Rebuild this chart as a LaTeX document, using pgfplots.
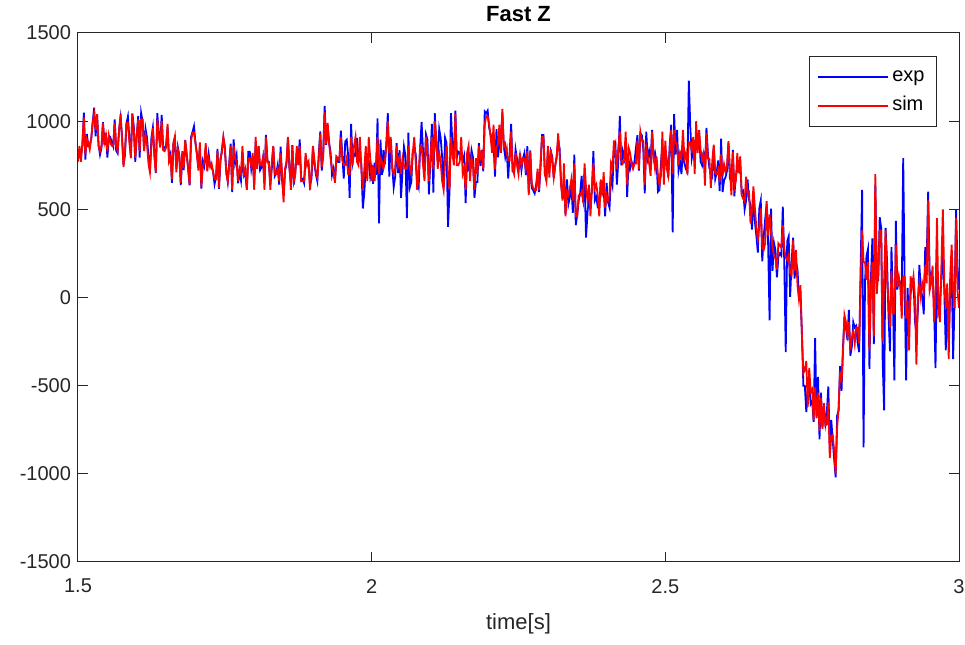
\documentclass[border=0pt]{standalone}
\usepackage{fontspec}
\setmainfont{Liberation Sans}
\usepackage{pgfplots}
\pgfplotsset{compat=1.18}
\usepackage{pgfplotstable}
\usetikzlibrary{calc}
\definecolor{axgray}{RGB}{38,38,38}

% time [s], measured (exp), simulated (sim)
\pgfplotstableread{
t exp sim
1.5000 790 770
1.5025 832 860
1.5050 798 770
1.5075 860 880
1.5100 1048 1020
1.5125 782 810
1.5150 928 900
1.5175 860 880
1.5200 868 840
1.5225 896 900
1.5250 994 990
1.5275 1076 1040
1.5300 914 950
1.5325 1036 1040
1.5350 864 860
1.5375 810 830
1.5400 848 860
1.5425 994 990
1.5450 868 880
1.5475 932 920
1.5500 794 830
1.5525 900 920
1.5550 908 880
1.5575 880 860
1.5600 856 860
1.5625 1010 990
1.5650 832 860
1.5675 818 830
1.5700 954 950
1.5725 1020 1040
1.5750 912 900
1.5775 752 740
1.5800 810 830
1.5825 986 990
1.5850 1026 990
1.5875 900 880
1.5900 810 790
1.5925 1044 1040
1.5950 970 950
1.5975 770 790
1.6000 916 920
1.6025 1030 1010
1.6050 794 830
1.6075 1046 1010
1.6100 998 1010
1.6125 842 830
1.6150 956 920
1.6175 906 870
1.6200 796 760
1.6225 714 710
1.6250 906 870
1.6275 964 960
1.6300 820 800
1.6325 706 710
1.6350 1046 1010
1.6375 932 920
1.6400 862 850
1.6425 1036 1000
1.6450 847 835
1.6475 850 830
1.6500 862 850
1.6525 965 985
1.6550 790 770
1.6575 815 795
1.6600 650 670
1.6625 876 880
1.6650 879 915
1.6675 730 710
1.6700 852 840
1.6725 807 795
1.6750 638 650
1.6775 794 830
1.6800 723 735
1.6825 894 890
1.6850 808 820
1.6875 734 730
1.6900 636 640
1.6925 910 890
1.6950 939 935
1.6975 971 935
1.7000 876 880
1.7025 814 810
1.7050 740 720
1.7075 852 880
1.7100 618 630
1.7125 773 745
1.7150 745 765
1.7175 847 875
1.7200 735 715
1.7225 813 785
1.7250 744 740
1.7275 740 760
1.7300 714 710
1.7325 642 670
1.7350 682 670
1.7375 842 830
1.7400 616 620
1.7425 770 790
1.7450 840 820
1.7475 906 910
1.7500 840 860
1.7525 720 700
1.7550 656 660
1.7575 762 750
1.7600 872 860
1.7625 598 610
1.7650 896 860
1.7675 762 790
1.7700 806 770
1.7725 648 660
1.7750 710 730
1.7775 664 700
1.7800 824 860
1.7825 688 700
1.7850 694 730
1.7875 614 610
1.7900 826 790
1.7925 826 790
1.7950 730 750
1.7975 792 820
1.8000 638 610
1.8025 882 910
1.8050 750 730
1.8075 856 860
1.8100 722 750
1.8125 738 750
1.8150 794 790
1.8175 646 610
1.8200 922 910
1.8225 782 770
1.8250 750 770
1.8275 646 610
1.8300 734 770
1.8325 856 860
1.8350 688 700
1.8375 704 700
1.8400 750 730
1.8425 640 660
1.8450 856 820
1.8475 664 700
1.8500 580 540
1.8525 718 730
1.8550 758 770
1.8575 906 910
1.8600 730 750
1.8625 646 610
1.8650 864 860
1.8675 640 660
1.8700 712 700
1.8725 824 860
1.8750 754 750
1.8775 896 860
1.8800 664 660
1.8825 672 660
1.8850 648 660
1.8875 784 820
1.8900 770 750
1.8925 758 770
1.8950 638 610
1.8975 672 700
1.9000 848 860
1.9025 760 780
1.9050 698 710
1.9075 660 680
1.9100 818 790
1.9125 942 930
1.9150 720 740
1.9175 820 800
1.9200 1086 1050
1.9225 866 870
1.9250 978 990
1.9275 876 880
1.9300 826 790
1.9325 694 730
1.9350 730 710
1.9375 662 650
1.9400 788 800
1.9425 770 790
1.9450 768 780
1.9475 946 910
1.9500 808 780
1.9525 675 750
1.9550 885 750
1.9575 895 790
1.9600 805 700
1.9625 565 700
1.9650 985 910
1.9675 765 750
1.9700 815 860
1.9725 805 910
1.9750 905 770
1.9775 765 750
1.9800 835 910
1.9825 745 730
1.9850 505 610
1.9875 595 730
1.9900 755 860
1.9925 795 660
1.9950 775 910
1.9975 685 790
2.0000 735 660
2.0025 645 750
2.0050 765 660
2.0075 695 770
2.0100 1015 910
2.0125 420 700
2.0150 895 790
2.0175 695 770
2.0200 835 730
2.0225 755 770
2.0250 875 860
2.0275 1045 1000
2.0300 685 820
2.0325 895 910
2.0350 745 730
2.0375 625 700
2.0400 685 730
2.0425 875 860
2.0450 705 750
2.0475 835 790
2.0500 565 700
2.0525 715 790
2.0550 855 750
2.0575 805 730
2.0600 450 730
2.0625 935 860
2.0650 625 730
2.0675 655 700
2.0700 835 820
2.0725 835 910
2.0750 815 770
2.0775 655 610
2.0800 625 700
2.0825 845 860
2.0850 995 860
2.0875 825 750
2.0900 735 660
2.0925 925 910
2.0950 895 820
2.0975 585 660
2.1000 775 790
2.1025 985 910
2.1050 595 730
2.1075 1045 1000
2.1100 865 910
2.1125 775 730
2.1150 955 820
2.1175 905 770
2.1200 795 660
2.1225 625 610
2.1250 905 770
2.1275 875 860
2.1300 400 700
2.1325 595 610
2.1350 1045 910
2.1375 865 820
2.1400 795 750
2.1425 1060 1040
2.1450 795 750
2.1475 825 750
2.1500 815 770
2.1525 835 910
2.1550 775 700
2.1575 805 730
2.1600 535 610
2.1625 805 820
2.1650 725 860
2.1675 735 660
2.1700 835 790
2.1725 795 750
2.1750 565 610
2.1775 655 790
2.1800 655 700
2.1825 875 860
2.1850 745 790
2.1875 835 820
2.1900 715 730
2.1925 1055 980
2.1950 1045 1030
2.1975 1060 1030
2.2000 965 980
2.2025 925 910
2.2050 895 820
2.2075 875 980
2.2100 685 730
2.2125 955 850
2.2150 795 870
2.2175 875 980
2.2200 895 820
2.2225 1050 1070
2.2250 865 850
2.2275 795 870
2.2300 835 820
2.2325 675 780
2.2350 825 780
2.2375 985 940
2.2400 715 730
2.2425 712 700
2.2450 840 820
2.2475 786 750
2.2500 728 700
2.2525 800 820
2.2550 722 750
2.2575 786 790
2.2600 818 790
2.2625 694 730
2.2650 858 830
2.2675 592 580
2.2700 834 830
2.2725 622 650
2.2750 608 620
2.2775 590 610
2.2800 638 610
2.2825 710 730
2.2850 598 610
2.2875 734 770
2.2900 922 910
2.2925 922 910
2.2950 696 700
2.2975 680 660
2.3000 824 860
2.3025 716 680
2.3050 828 840
2.3075 798 770
2.3100 676 680
2.3125 746 750
2.3150 802 790
2.3175 894 930
2.3200 846 810
2.3225 650 640
2.3250 560 550
2.3275 670 760
2.3300 470 460
2.3325 670 600
2.3350 530 580
2.3375 570 620
2.3400 640 670
2.3425 480 550
2.3450 810 760
2.3475 410 460
2.3500 470 460
2.3525 550 580
2.3550 590 580
2.3575 690 600
2.3600 540 550
2.3625 670 760
2.3650 340 620
2.3675 480 550
2.3700 590 640
2.3725 530 460
2.3750 610 620
2.3775 830 760
2.3800 550 620
2.3825 570 640
2.3850 510 580
2.3875 510 460
2.3900 660 670
2.3925 590 580
2.3950 620 710
2.3975 460 510
2.4000 650 580
2.4025 540 550
2.4050 510 580
2.4075 690 760
2.4100 640 730
2.4125 840 890
2.4150 870 820
2.4175 640 730
2.4200 780 850
2.4225 1030 940
2.4250 750 780
2.4275 830 760
2.4300 790 780
2.4325 890 940
2.4350 570 640
2.4375 780 850
2.4400 730 820
2.4425 770 760
2.4450 740 730
2.4475 770 760
2.4500 850 760
2.4525 920 890
2.4550 720 730
2.4575 930 940
2.4600 920 890
2.4625 840 890
2.4650 590 640
2.4675 940 850
2.4700 790 800
2.4725 830 760
2.4750 780 690
2.4775 950 940
2.4800 790 800
2.4825 820 730
2.4850 770 800
2.4875 600 690
2.4900 610 640
2.4925 760 690
2.4950 870 940
2.4975 730 640
2.5000 840 890
2.5025 780 730
2.5050 680 690
2.5075 870 840
2.5100 980 950
2.5125 370 700
2.5150 1040 950
2.5175 810 880
2.5200 950 860
2.5225 720 750
2.5250 770 820
2.5275 700 790
2.5300 860 950
2.5325 760 790
2.5350 730 820
2.5375 710 700
2.5400 1230 880
2.5425 970 880
2.5450 790 840
2.5475 840 910
2.5500 770 700
2.5525 930 1000
2.5550 870 820
2.5575 940 950
2.5600 770 840
2.5625 750 780
2.5650 827 817
2.5675 724 634
2.5700 961 931
2.5725 818 788
2.5750 735 785
2.5775 712 622
2.5800 689 779
2.5825 856 866
2.5850 673 703
2.5875 710 700
2.5900 777 727
2.5925 604 654
2.5950 901 811
2.5975 598 688
2.6000 665 755
2.6025 682 712
2.6050 719 749
2.6075 876 886
2.6100 673 723
2.6125 670 580
2.6150 837 827
2.6175 574 624
2.6200 691 661
2.6225 728 818
2.6250 715 705
2.6275 760 800
2.6300 595 580
2.6325 605 560
2.6350 500 545
2.6375 550 685
2.6400 670 595
2.6425 555 600
2.6450 525 420
2.6475 385 490
2.6500 585 630
2.6525 430 505
2.6550 350 395
2.6575 255 330
2.6600 505 400
2.6625 550 505
2.6650 205 280
2.6675 345 270
2.6700 443 308
2.6725 531 546
2.6750 308 353
2.6775 -130 471
2.6800 504 369
2.6825 151 286
2.6850 309 234
2.6875 267 222
2.6900 114 159
2.6925 232 307
2.6950 250 295
2.6975 237 282
2.7000 515 410
2.7025 203 278
2.7050 -310 226
2.7075 318 213
2.7100 346 241
2.7125 4 139
2.7150 201 126
2.7175 339 324
2.7200 107 152
2.7225 200 270
2.7250 160 70
2.7275 0 -10
2.7300 20 70
2.7325 -200 -210
2.7350 -500 -430
2.7375 -500 -410
2.7400 -650 -360
2.7425 -530 -620
2.7450 -490 -400
2.7475 -605 -535
2.7500 -590 -520
2.7525 -705 -695
2.7550 -230 -510
2.7575 -675 -685
2.7600 -450 -540
2.7625 -805 -755
2.7650 -540 -570
2.7675 -735 -745
2.7700 -630 -600
2.7725 -715 -725
2.7750 -650 -720
2.7775 -505 -595
2.7800 -860 -910
2.7825 -695 -785
2.7850 -810 -780
2.7875 -920 -870
2.7900 -1020 -1000
2.7925 -670 -740
2.7950 -640 -630
2.7975 -390 -420
2.8000 -530 -480
2.8025 -280 -310
2.8050 -110 -100
2.8075 -170 -140
2.8100 -240 -210
2.8125 -70 -140
2.8150 -330 -300
2.8175 -280 -230
2.8200 -140 -190
2.8225 -170 -260
2.8250 -160 -170
2.8275 -260 -170
2.8300 -310 -260
2.8325 165 60
2.8350 610 380
2.8375 -850 200
2.8400 95 200
2.8425 235 100
2.8450 275 200
2.8475 -405 -300
2.8500 105 60
2.8525 335 200
2.8550 -265 -220
2.8575 640 700
2.8600 155 20
2.8625 95 140
2.8650 455 380
2.8675 395 380
2.8700 -355 -250
2.8725 -640 100
2.8750 395 380
2.8775 205 100
2.8800 -105 -30
2.8825 -305 -170
2.8850 285 150
2.8875 -15 -90
2.8900 -470 -90
2.8925 435 300
2.8950 45 60
2.8975 105 120
2.9000 75 60
2.9025 15 -120
2.9050 790 120
2.9075 75 120
2.9100 -470 -120
2.9125 55 -20
2.9150 -195 -300
2.9175 15 120
2.9200 105 60
2.9225 105 120
2.9250 -135 0
2.9275 -195 -380
2.9300 -75 0
2.9325 185 80
2.9350 45 0
2.9375 5 80
2.9400 -95 40
2.9425 285 180
2.9450 215 80
2.9475 600 550
2.9500 145 40
2.9525 125 80
2.9550 105 180
2.9575 -35 -140
2.9600 -400 0
2.9625 215 450
2.9650 -75 -60
2.9675 -35 -140
2.9700 105 180
2.9725 275 500
2.9750 35 80
2.9775 -300 -60
2.9800 5 80
2.9825 -245 -350
2.9850 15 120
2.9875 195 300
2.9900 -350 40
2.9925 -15 -60
2.9950 500 450
2.9975 175 40
3.0000 45 -60
}\fastz

\begin{document}
\begin{tikzpicture}
\begin{axis}[
  name=ax,
  scale only axis,
  width=440.5pt, height=264.5pt,
  xmin=1.5, xmax=3, ymin=-1500, ymax=1500,
  xtick={1.5,2,2.5,3},
  ytick={-1500,-1000,-500,0,500,1000,1500},
  tick align=inside,
  major tick length=5pt,
  axis line style={axgray, line width=0.5pt},
  tick style={axgray, line width=0.5pt},
  every tick label/.append style={font=\fontsize{10}{12}\selectfont, text=axgray},
  xticklabel style={yshift=-5pt},
  /pgf/number format/assume math mode=true,
  /pgf/number format/1000 sep={},
  scaled ticks=false,
  title={\textbf{Fast Z}},
  title style={at={(axis description cs:0.5,1)}, anchor=base, yshift=-0.2pt,
               font=\fontsize{11}{13}\selectfont},
  xlabel={time[s]},
  xlabel style={at={(axis description cs:0.5,0)}, anchor=base, yshift=-34pt,
                font=\fontsize{11}{13}\selectfont, text=axgray},
  legend style={at={(1,1)}, anchor=north east, xshift=-11pt, yshift=-11.5pt,
                draw=axgray, line width=0.5pt, inner xsep=4pt, inner ysep=3.75pt,
                row sep=1.5pt, font=\fontsize{10}{12}\selectfont,
                nodes={inner sep=2pt, text height=7pt, text depth=2pt}},
  legend cell align=left,
  legend image code/.code={\draw[#1, line width=0.6pt] (0pt,0pt) -- (35pt,0pt);},
]
\addplot[blue, line width=0.9pt] table[x=t, y=exp] {\fastz};
\addplot[red, line width=0.9pt] table[x=t, y=sim] {\fastz};
\legend{exp, sim}
\end{axis}
\pgfresetboundingbox
\path ($(ax.south west)+(-39pt,-41.5pt)$) rectangle ($(ax.north east)+(3pt,16.5pt)$);
\end{tikzpicture}
\end{document}
